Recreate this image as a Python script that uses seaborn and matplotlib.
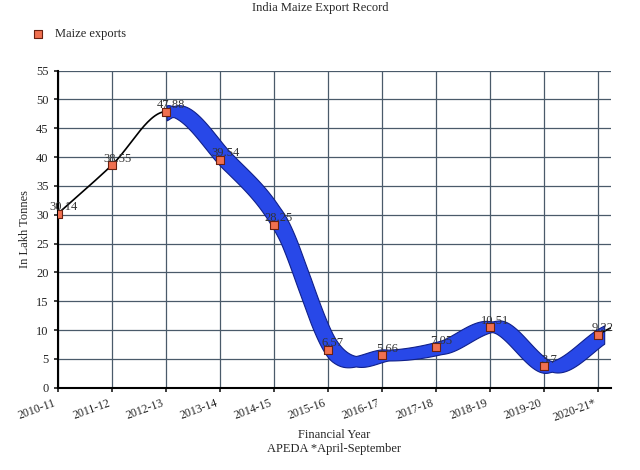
import numpy as np
import matplotlib
matplotlib.use("Agg")
import matplotlib.pyplot as plt
import seaborn as sns
import pandas as pd

years = ["2010-11","2011-12","2012-13","2013-14","2014-15","2015-16","2016-17","2017-18","2018-19","2019-20","2020-21*"]
exports = [30.14, 38.55, 47.88, 39.54, 28.25, 6.57, 5.66, 7.05, 10.51, 3.7, 9.22]
labels = ["30.14","38.55","47.88","39.54","28.25","6.57","5.66","7.05","10.51","3.7","9.22"]

df = pd.DataFrame({"x": np.arange(len(years)), "y": exports})
sns.set_theme(style="white", font="Liberation Serif")
fig, ax = plt.subplots(figsize=(6.4, 4.7), dpi=100)
fig.subplots_adjust(left=0.09, right=0.955, top=0.85, bottom=0.175)

def catmull(xp, yp, n=30):
    P = np.column_stack([xp, yp]).astype(float)
    P = np.vstack([2*P[0]-P[1], P, 2*P[-1]-P[-2]])
    out = []
    for i in range(1, len(P)-2):
        t = np.linspace(0, 1, n, endpoint=False)[:, None]
        p0, p1, p2, p3 = P[i-1], P[i], P[i+1], P[i+2]
        out.append(0.5*((2*p1) + (-p0+p2)*t + (2*p0-5*p1+4*p2-p3)*t**2 + (-p0+3*p1-3*p2+p3)*t**3))
    out.append(P[-2][None, :])
    return np.vstack(out)

c = catmull(df.x.values, df.y.values)
ax.plot(c[:, 0], c[:, 1], color="black", lw=1.2, zorder=1.5)
m = c[:, 0] >= 1.9
xs, ys = c[m, 0], c[m, 1]
slope = np.abs(np.gradient(ys, xs))
w = 0.9 + 0.12*np.minimum(slope, 25)
ax.fill_between(xs + 0.12, ys - w, ys + w, color="#2848e8", edgecolor="#10208a", lw=0.8, zorder=2)
ax.plot([10, 10.25], [exports[-1], exports[-1]+1.2], color="black", lw=1.2)

sns.scatterplot(data=df, x="x", y="y", marker="s", s=30, color="#f07050",
                edgecolor="#6a2010", linewidth=0.8, zorder=4, ax=ax, label="Maize exports")
for xi, yi, lb in zip(df.x, df.y, labels):
    ax.text(xi + 0.1, yi + 0.6, lb, fontsize=9, color="#333333", ha="center", zorder=5)

ax.set_xlim(0, 10.25)
ax.set_ylim(0, 55)
ax.set_yticks(range(0, 56, 5))
ax.set_xticks(range(len(years)))
ax.set_xticklabels(years, rotation=20, ha="right", fontsize=8.5)
ax.tick_params(axis="y", labelsize=9, length=3, left=True)
ax.tick_params(axis="x", length=3, bottom=True)
ax.grid(True, color="#4a5a6a", lw=0.9)
for s in ["top", "right"]:
    ax.spines[s].set_visible(False)
ax.spines["left"].set_color("black"); ax.spines["bottom"].set_color("black")
ax.spines["left"].set_linewidth(1.5); ax.spines["bottom"].set_linewidth(1.5)
ax.set_xlabel("Financial Year\nAPEDA *April-September", fontsize=9)
ax.set_ylabel("In Lakh Tonnes", fontsize=9)
fig.suptitle("India Maize Export Record", fontsize=9, y=0.995)
ax.legend(loc="upper left", bbox_to_anchor=(-0.07, 1.17), frameon=False, fontsize=9,
          handlelength=1.2)
fig.savefig("out.png")
